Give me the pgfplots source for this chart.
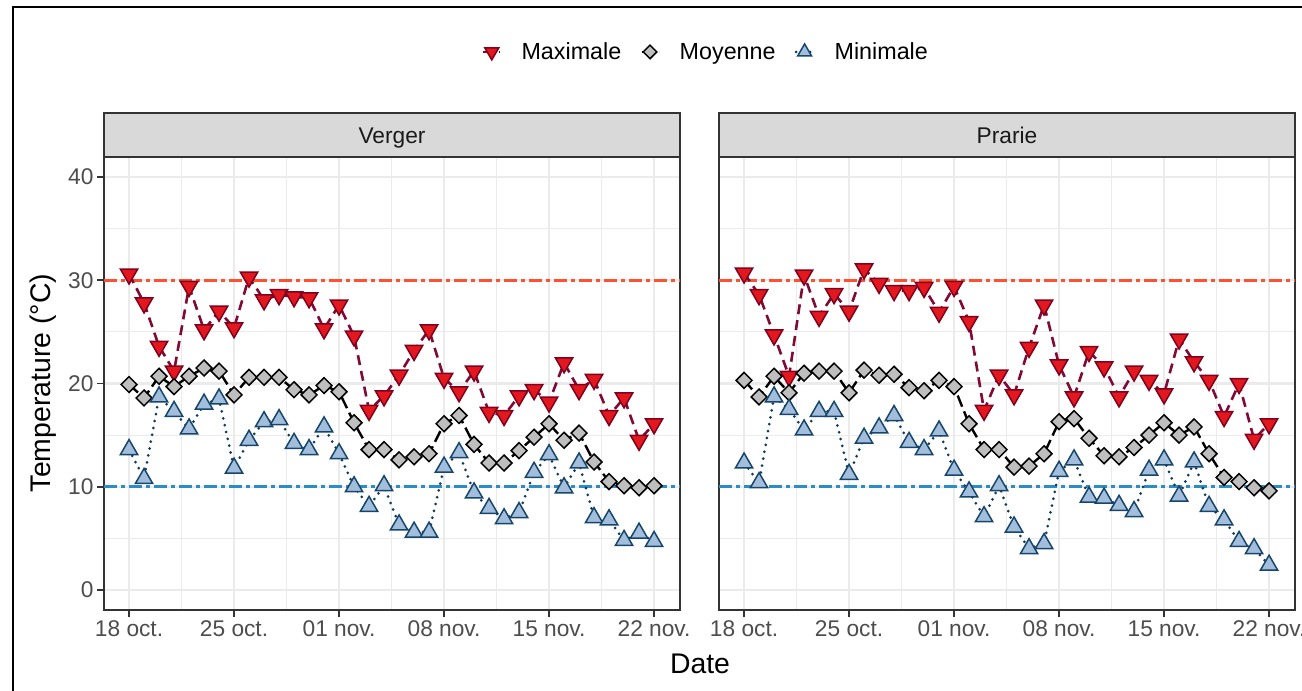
\documentclass[border=0pt]{standalone}
\usepackage{pgfplots}
\pgfplotsset{compat=1.18}
\usepackage{pgfplotstable}
\usepackage{fontspec}
\setmainfont{Liberation Sans}
\definecolor{gtwenty}{HTML}{333333}
\definecolor{gthirty}{HTML}{4D4D4D}
\definecolor{gninetytwo}{HTML}{EBEBEB}
\definecolor{geightyfive}{HTML}{D9D9D9}
\definecolor{gten}{HTML}{1A1A1A}
\definecolor{maxfill}{HTML}{E3181F}
\definecolor{maxedge}{HTML}{80001E}
\definecolor{maxline}{HTML}{7E0A35}
\definecolor{moyfill}{HTML}{BEBEBE}
\definecolor{minfill}{HTML}{A3BEDC}
\definecolor{minedge}{HTML}{17466B}
\definecolor{minline}{HTML}{0F3A5C}
\definecolor{refhi}{HTML}{FF5030}
\definecolor{reflo}{HTML}{2A8DC5}

\pgfplotstableread{
d vmax vmoy vmin pmax pmoy pmin
0 30.6 19.9 13.6 30.7 20.3 12.3
1 27.8 18.6 10.8 28.6 18.7 10.4
2 23.6 20.7 18.7 24.7 20.7 18.7
3 21.2 19.7 17.3 20.7 19.1 17.5
4 29.4 20.7 15.6 30.5 21.0 15.5
5 25.2 21.5 18.0 26.5 21.2 17.3
6 27.0 21.2 18.5 28.7 21.2 17.3
7 25.4 18.9 11.8 27.0 19.1 11.2
8 30.3 20.6 14.5 31.1 21.3 14.7
9 28.1 20.6 16.3 29.7 20.8 15.7
10 28.6 20.6 16.5 29.0 20.9 16.9
11 28.4 19.4 14.2 29.0 19.6 14.3
12 28.3 18.9 13.6 29.3 19.3 13.6
13 25.3 19.8 15.8 26.9 20.3 15.4
14 27.6 19.2 13.2 29.4 19.7 11.6
15 24.6 16.2 10.0 26.0 16.1 9.5
16 17.4 13.6 8.1 17.4 13.6 7.1
17 18.8 13.6 10.1 20.8 13.6 10.1
18 20.8 12.6 6.3 18.9 11.9 6.1
19 23.2 12.9 5.6 23.5 12.0 4.0
20 25.2 13.2 5.6 27.6 13.2 4.5
21 20.5 16.1 11.9 21.8 16.3 11.5
22 19.2 16.9 13.3 18.7 16.6 12.6
23 21.2 14.1 9.4 23.1 14.7 9.0
24 17.2 12.3 7.9 21.6 13.0 8.9
25 16.9 12.3 6.9 18.7 12.9 8.2
26 18.8 13.5 7.5 21.2 13.8 7.6
27 19.4 14.8 11.4 20.3 15.0 11.6
28 18.2 16.1 13.1 19.0 16.2 12.6
29 22.0 14.5 9.9 24.3 15.0 9.1
30 19.4 15.2 12.3 22.1 15.8 12.4
31 20.4 12.4 7.0 20.3 13.2 8.1
32 16.9 10.5 6.8 16.8 10.9 6.8
33 18.6 10.1 4.8 20.0 10.5 4.7
34 14.5 9.9 5.5 14.6 9.9 4.0
35 16.1 10.1 4.7 16.1 9.6 2.4
}\data

\pgfplotstableread{
x y
-1.67 30
36.73 30
}\refhi
\pgfplotstableread{
x y
-1.67 10
36.73 10
}\reflo

\newcommand{\ticksize}{\fontsize{22.8}{26}\selectfont}

\pgfplotsset{
  panel/.style={
    scale only axis, width=576bp, height=453bp,
    xmin=-1.67, xmax=36.73, ymin=-1.94, ymax=41.94,
    axis line style={draw=gtwenty, line width=1.3bp},
    xtick={0,7,14,21,28,35},
    xticklabels={18 oct., 25 oct., 01 nov., 08 nov., 15 nov., 22 nov.},
    minor xtick={3.5,10.5,17.5,24.5,31.5},
    ytick={0,10,20,30,40},
    yticklabels={0,10,20,30,40},
    minor ytick={5,15,25,35},
    grid=both,
    major grid style={draw=gninetytwo, line width=2.2bp},
    minor grid style={draw=gninetytwo, line width=1.1bp},
    tick align=outside, major tick length=7bp, minor tick length=0pt,
    xtick style={draw=gtwenty, line width=1.6bp},
    xtick pos=bottom, ytick pos=left,
    ticklabel style={font=\ticksize, text=gthirty},
    /pgf/number format/assume math mode=true,
  },
  refh/.style={draw=refhi, line width=2.8bp, dash pattern=on 13bp off 4bp on 4bp off 4bp, forget plot},
  refl/.style={draw=reflo, line width=2.8bp, dash pattern=on 13bp off 4bp on 4bp off 4bp, forget plot},
  maxl/.style={draw=maxline, line width=2.6bp, dash pattern=on 10bp off 6bp},
  moyl/.style={draw=black, line width=2.4bp, dash pattern=on 12bp off 5bp},
  minl/.style={draw=minline, line width=3bp, dash pattern=on 0bp off 7bp, line cap=round},
  maxm/.style={mark=triangle*, mark size=10bp, mark options={rotate=180, fill=maxfill, draw=maxedge, line width=1.5bp, solid}},
  moym/.style={mark=square*, mark size=5.6bp, mark options={rotate=45, fill=moyfill, draw=black, line width=1.5bp, solid}},
  minm/.style={mark=triangle*, mark size=10bp, mark options={fill=minfill, draw=minedge, line width=1.5bp, solid}},
}

\begin{document}
\begin{tikzpicture}
\useasboundingbox (0bp,0bp) rectangle (1302bp,-691bp);
\fill[white] (0bp,0bp) rectangle (1302bp,-691bp);
\draw[line width=2bp] (13bp,-691bp) -- (13bp,-7bp) -- (1302bp,-7bp);

% Left panel: Verger
\begin{axis}[panel, at={(104bp,-610bp)}, anchor=south west,
  ytick style={draw=gtwenty, line width=1.6bp},
  legend style={at={(1.045,1.232)}, anchor=center, legend columns=3, draw=none, fill=none,
    font=\fontsize{23.4}{27}\selectfont,
    /tikz/every even column/.append style={column sep=17bp},
    /tikz/every odd column/.append style={column sep=18bp}},
  legend cell align=left]
\addplot[refh] table[x=x,y=y] {\refhi};
\addplot[refl] table[x=x,y=y] {\reflo};
\addplot[maxl, no marks, forget plot] table[x=d,y=vmax] {\data};
\addplot[moyl, no marks, forget plot] table[x=d,y=vmoy] {\data};
\addplot[minl, no marks, forget plot] table[x=d,y=vmin] {\data};
\addplot[only marks, maxm, forget plot] table[x=d,y=vmax] {\data};
\addplot[only marks, moym, forget plot] table[x=d,y=vmoy] {\data};
\addplot[only marks, minm, forget plot] table[x=d,y=vmin] {\data};
\addlegendimage{maxl, maxm, mark size=8bp}
\addlegendentry{Maximale}
\addlegendimage{moyl, moym, mark size=4.8bp}
\addlegendentry{Moyenne}
\addlegendimage{minl, minm, mark size=8bp}
\addlegendentry{Minimale}
\end{axis}

% Right panel: Prarie
\begin{axis}[panel, at={(719bp,-610bp)}, anchor=south west,
  ytick style={draw=none}, yticklabels={}]
\addplot[refh] table[x=x,y=y] {\refhi};
\addplot[refl] table[x=x,y=y] {\reflo};
\addplot[maxl, no marks] table[x=d,y=pmax] {\data};
\addplot[moyl, no marks] table[x=d,y=pmoy] {\data};
\addplot[minl, no marks] table[x=d,y=pmin] {\data};
\addplot[only marks, maxm] table[x=d,y=pmax] {\data};
\addplot[only marks, moym] table[x=d,y=pmoy] {\data};
\addplot[only marks, minm] table[x=d,y=pmin] {\data};
\end{axis}

% strips
\draw[fill=geightyfive, draw=gtwenty, line width=1.3bp] (104bp,-113bp) rectangle (680bp,-157bp);
\draw[fill=geightyfive, draw=gtwenty, line width=1.3bp] (719bp,-113bp) rectangle (1295bp,-157bp);
\node[font=\ticksize, text=gten, anchor=base] at (392bp,-143bp) {Verger};
\node[font=\ticksize, text=gten, anchor=base] at (1007bp,-143bp) {Prarie};

% axis titles
\node[font=\fontsize{28.5}{32}\selectfont, rotate=90, anchor=base] at (50bp,-383bp) {Temperature (°C)};
\node[font=\fontsize{28.5}{32}\selectfont, anchor=base] at (700bp,-673bp) {Date};
\end{tikzpicture}
\end{document}
